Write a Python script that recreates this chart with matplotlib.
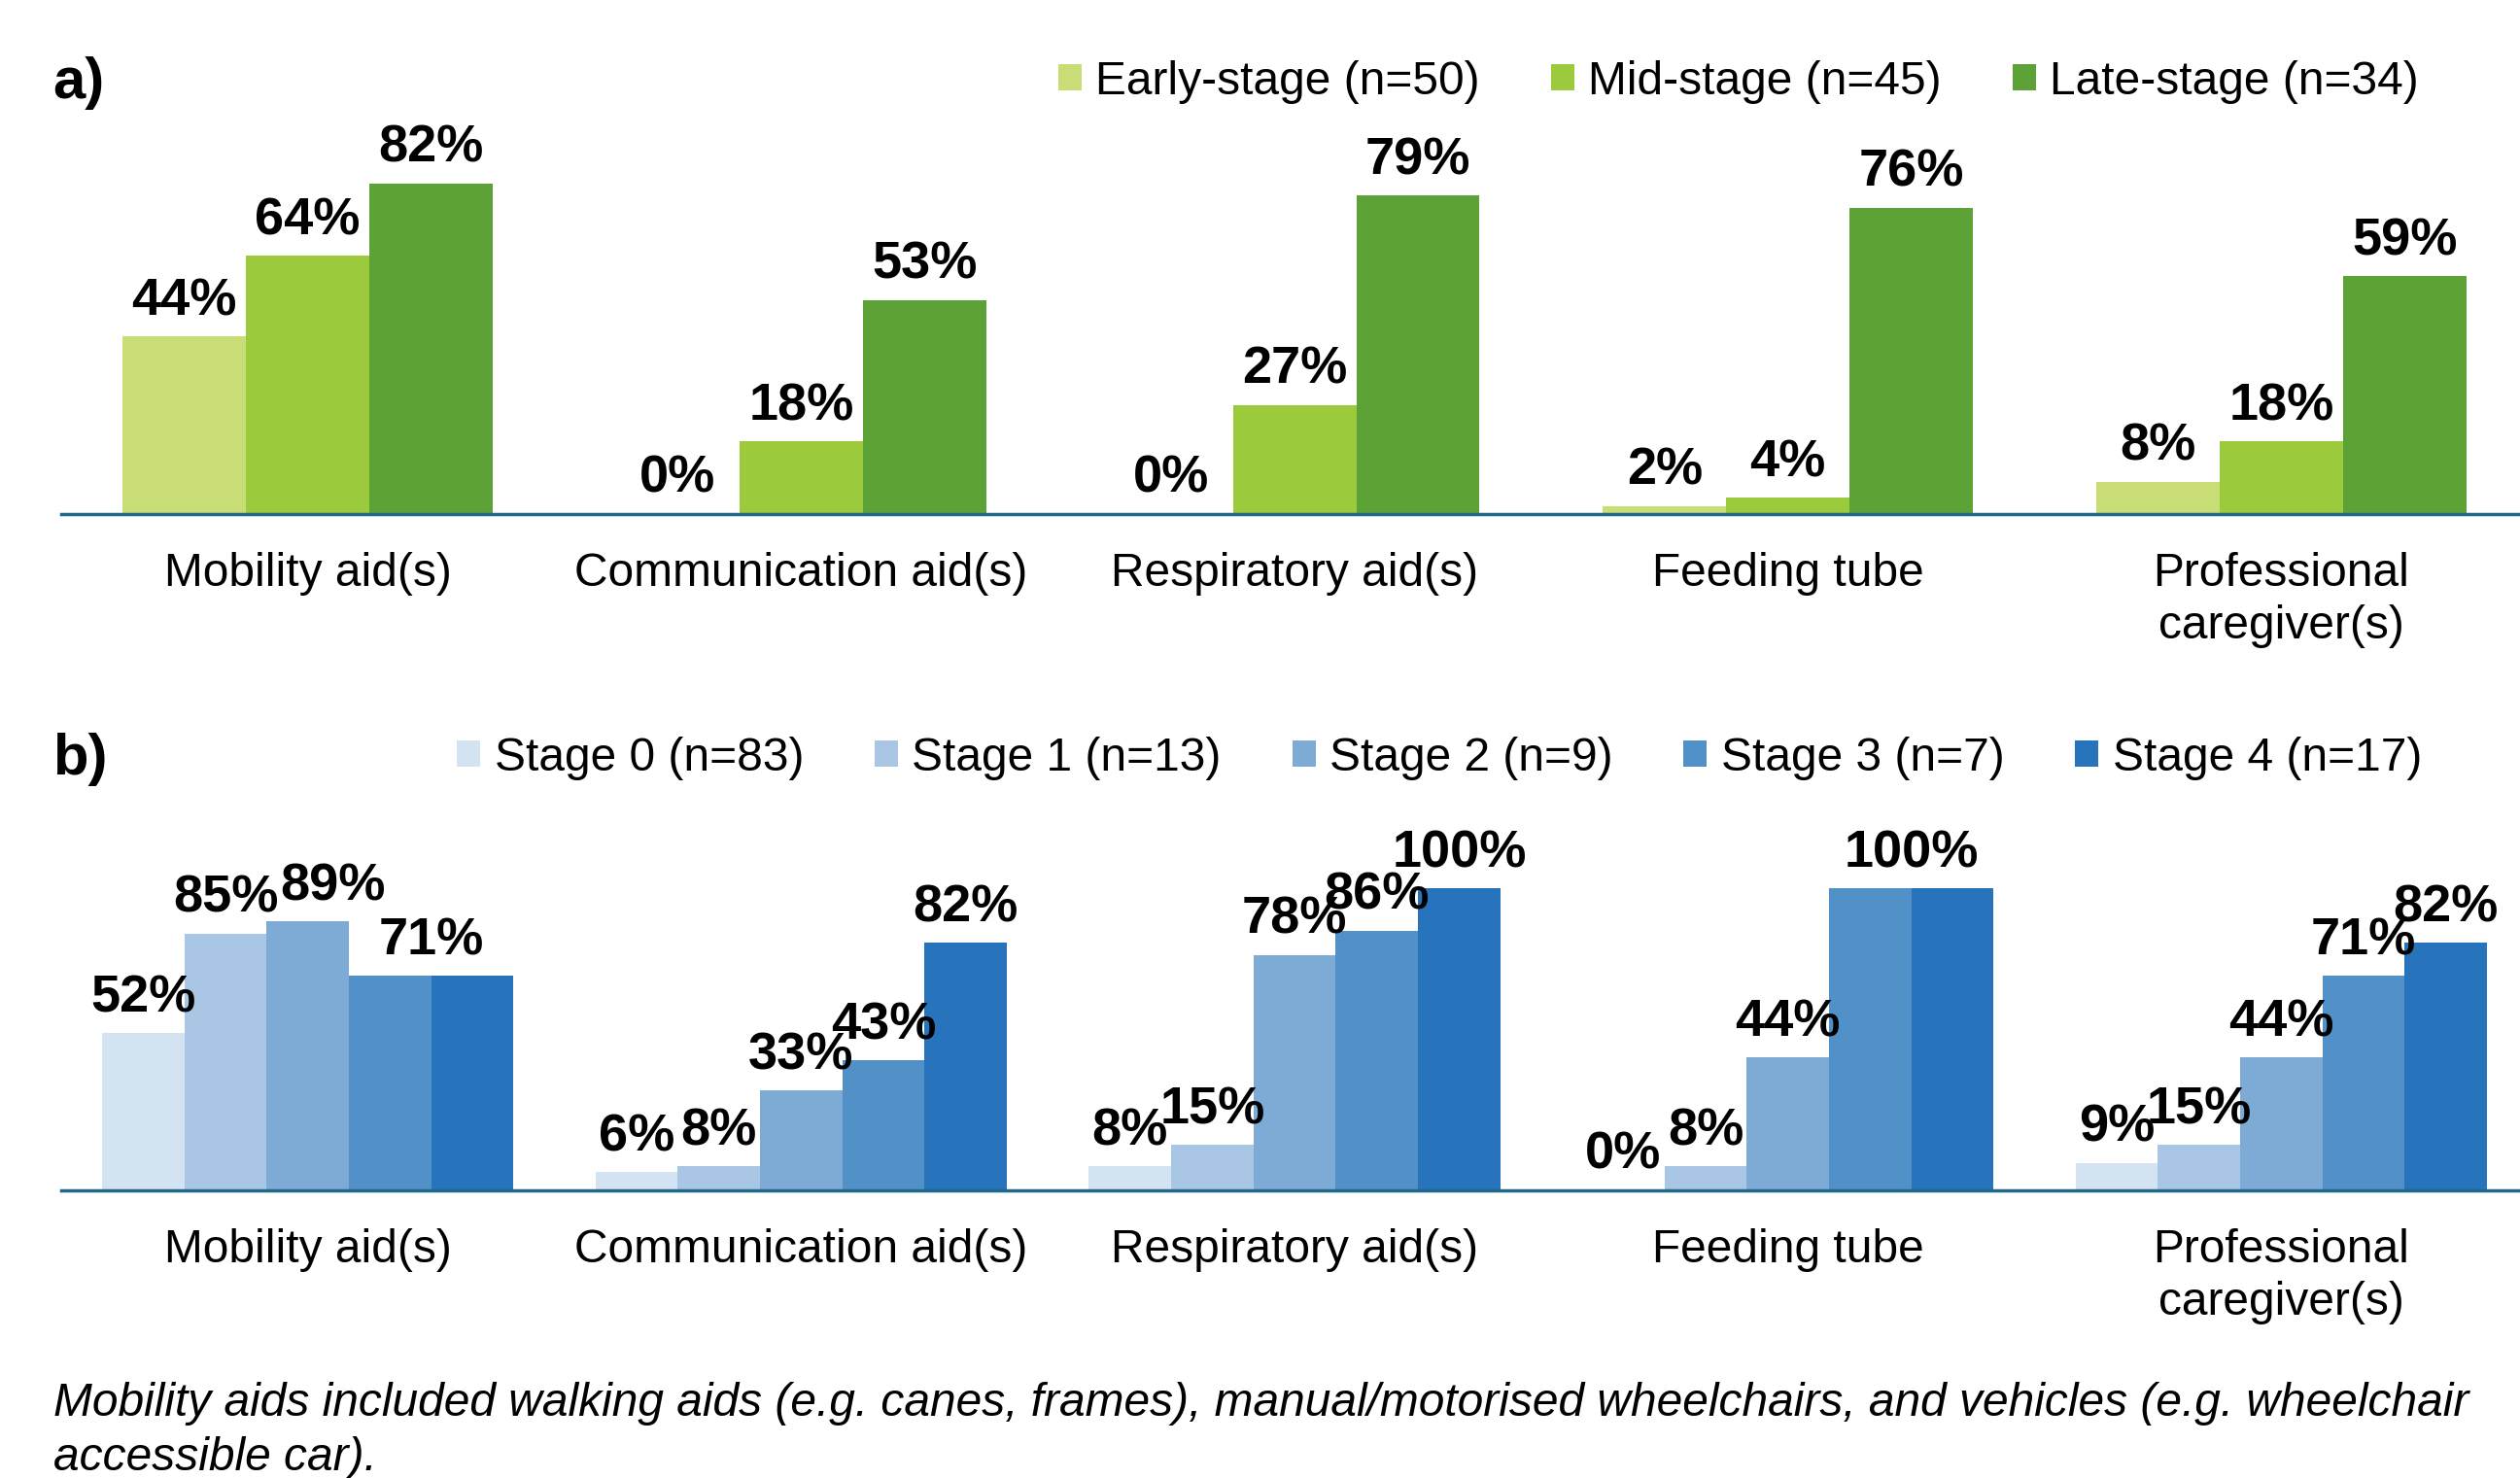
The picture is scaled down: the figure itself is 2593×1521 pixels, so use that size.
import matplotlib
matplotlib.use("Agg")
import matplotlib.pyplot as plt
import numpy as np

plt.rcParams["font.family"] = ["Liberation Sans", "DejaVu Sans"]

categories = ["Mobility aid(s)", "Communication aid(s)", "Respiratory aid(s)",
              "Feeding tube", "Professional\ncaregiver(s)"]

# Panel a: disease stage groups
stage_a_labels = ["Early-stage (n=50)", "Mid-stage (n=45)", "Late-stage (n=34)"]
early_stage = [44, 0, 0, 2, 8]
mid_stage = [64, 18, 27, 4, 18]
late_stage = [82, 53, 79, 76, 59]
colors_a = ["#C9DD76", "#9BCA3C", "#5DA236"]

# Panel b: numbered stages
stage_b_labels = ["Stage 0 (n=83)", "Stage 1 (n=13)", "Stage 2 (n=9)",
                  "Stage 3 (n=7)", "Stage 4 (n=17)"]
stage0 = [52, 6, 8, 0, 9]
stage1 = [85, 8, 15, 8, 15]
stage2 = [89, 33, 78, 44, 44]
stage3 = [71, 43, 86, 100, 71]
stage4 = [71, 82, 100, 100, 82]
colors_b = ["#D4E3F2", "#A9C7E4", "#7EABD5", "#5290C8", "#2874BC"]

footnote_lines = [
    "Mobility aids included walking aids (e.g. canes, frames), manual/motorised "
    "wheelchairs, and vehicles (e.g. wheelchair",
    "accessible car).",
]

W, H = 1568, 920  # layout grid used for positioning
fig = plt.figure(figsize=(25.93, 15.21), dpi=100)

axis_color = "#1F6A8A"
val_fs = 39
cat_fs = 34.5
leg_fs = 34.5

# (series index, category index) -> horizontal nudge of the value label, in group units
label_nudge = {(2, 0): 0.05}


def grouped(ax, series, labels, colors, bar_w, nudge=None):
    nudge = nudge or {}
    n = len(series)
    x = np.arange(len(categories))
    containers = []
    for i, (vals, lab, col) in enumerate(zip(series, labels, colors)):
        offs = (i - (n - 1) / 2) * bar_w
        bars = ax.bar(x + offs, np.array(vals) / 100.0, width=bar_w, color=col,
                      label=lab, linewidth=0)
        containers.append(bars)
    for i, bars in enumerate(containers):
        for j, b in enumerate(bars):
            v = series[i][j]
            cx = b.get_x() + b.get_width() / 2
            # equal neighbouring values share one label centred over both bars
            if i + 1 < n and series[i + 1][j] == v and n > 3:
                cx += bar_w / 2
            elif i > 0 and series[i - 1][j] == v and n > 3:
                continue
            cx += nudge.get((i, j), 0.0)
            ax.annotate(f"{v}%", (cx, b.get_height()),
                        xytext=(0, 8), textcoords="offset points",
                        ha="center", va="bottom", fontsize=val_fs,
                        fontweight="bold", annotation_clip=False)
    ax.set_xlim(-0.5, 4.5)
    ax.set_ylim(0, 1)
    ax.set_xticks(x)
    ax.set_xticklabels(categories, fontsize=cat_fs, linespacing=1.26)
    ax.tick_params(axis="x", length=0, pad=28)
    ax.set_yticks([])
    for s in ["top", "right", "left"]:
        ax.spines[s].set_visible(False)
    ax.spines["bottom"].set_color(axis_color)
    ax.spines["bottom"].set_linewidth(2.5)
    ax.patch.set_alpha(0)


left = 38 / W
width = 1535 / W

ax_a = fig.add_axes([left, 1 - 320 / H, width, 251 / H])
grouped(ax_a, [early_stage, mid_stage, late_stage], stage_a_labels, colors_a, 0.25)

ax_b = fig.add_axes([left, 1 - 741 / H, width, 188 / H])
grouped(ax_b, [stage0, stage1, stage2, stage3, stage4], stage_b_labels, colors_b,
        0.1667, label_nudge)

leg_kw = dict(frameon=False, fontsize=leg_fs, handlelength=0.5, handleheight=0.5,
              handletextpad=0.3, columnspacing=1.52, borderpad=0, borderaxespad=0,
              loc="center right")
ax_a.legend(ncol=3, bbox_to_anchor=(1505 / W, 1 - 51 / H),
            bbox_transform=fig.transFigure, **leg_kw)
ax_b.legend(ncol=5, bbox_to_anchor=(1507 / W, 1 - 472 / H),
            bbox_transform=fig.transFigure, **leg_kw)

fig.text(33 / W, 1 - 52 / H, "a)", fontsize=43, fontweight="bold",
         ha="left", va="center")
fig.text(33 / W, 1 - 473 / H, "b)", fontsize=43, fontweight="bold",
         ha="left", va="center")

for k, line in enumerate(footnote_lines):
    fig.text(33 / W, 1 - (881 + 34 * k) / H, line, fontsize=34.5, style="italic",
             ha="left", va="baseline")

fig.savefig("out.png", dpi=100, facecolor="white")
